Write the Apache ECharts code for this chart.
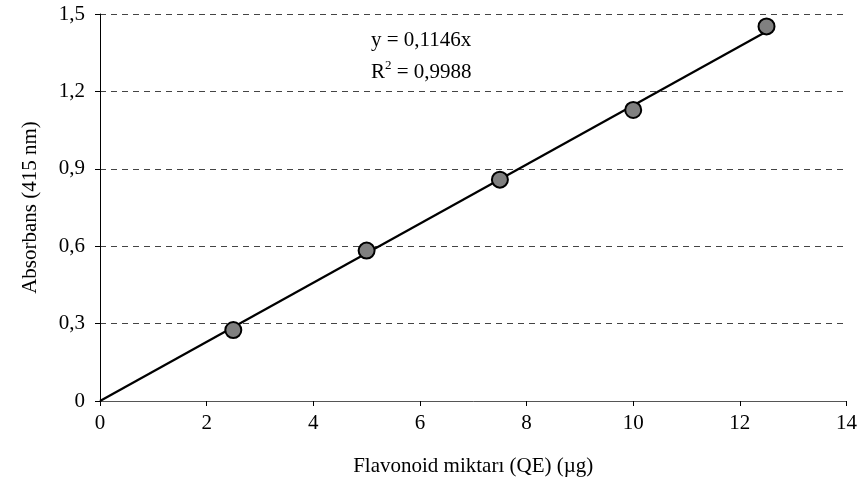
<!DOCTYPE html>
<html><head><meta charset="utf-8">
<script src="https://cdn.jsdelivr.net/npm/echarts@6/dist/echarts.min.js"></script>
<style>html,body{margin:0;padding:0;background:#fff}#c{width:860px;height:492px}</style>
</head><body><div id="c"></div>
<script>
const xValues = [2.5, 5, 7.5, 10, 12.5];
const yValues = [0.275, 0.583, 0.858, 1.128, 1.452];
const trendX = [0, 12.5];
const trendY = [0, 1.4325];
const xTicks = [0, 2, 4, 6, 8, 10, 12, 14];
const yTicks = [0, 0.3, 0.6, 0.9, 1.2, 1.5];
const eqLine1 = 'y = 0,1146x';
const eqLine2 = ['R', '2', ' = 0,9988'];

const font = 'Liberation Serif, Times New Roman, serif';
const chart = echarts.init(document.getElementById('c'));
const fmt = v => v === 0 ? '0' : v.toFixed(1).replace('.', ',');
chart.setOption({
  animation: false,
  grid: {left: 100, right: 13, top: 14, bottom: 91},
  xAxis: {
    type: 'value', min: xTicks[0], max: xTicks[xTicks.length - 1], interval: 2,
    name: 'Flavonoid miktarı (QE) (µg)', nameLocation: 'middle', nameGap: 55,
    nameTextStyle: {fontFamily: font, fontSize: 21, color: '#000'},
    axisLine: {onZero: false, lineStyle: {color: '#555', width: 1}},
    axisTick: {show: true, length: 5, lineStyle: {color: '#000'}},
    axisLabel: {fontFamily: font, fontSize: 21, color: '#000', margin: 12},
    splitLine: {show: false}
  },
  yAxis: {
    type: 'value', min: yTicks[0], max: yTicks[yTicks.length - 1], interval: 0.3,
    name: 'Absorbans (415 nm)', nameLocation: 'middle', nameGap: 59,
    nameTextStyle: {fontFamily: font, fontSize: 21, color: '#000'},
    axisLine: {show: true, onZero: false, lineStyle: {color: '#000', width: 1}},
    axisTick: {show: true, length: 5, lineStyle: {color: '#000'}},
    axisLabel: {fontFamily: font, fontSize: 21, color: '#000', margin: 15, formatter: fmt},
    splitLine: {show: true, lineStyle: {color: '#444', type: [6, 5], width: 1}}
  },
  series: [
    {
      type: 'line', data: trendX.map((x, i) => [x, trendY[i]]),
      symbol: 'none', lineStyle: {color: '#000', width: 2.2}, z: 2
    },
    {
      type: 'scatter', data: xValues.map((x, i) => [x, yValues[i]]),
      symbolSize: 16, itemStyle: {color: '#808080', borderColor: '#000', borderWidth: 2, opacity: 1}, z: 3
    }
  ],
  graphic: [
    {type: 'text', left: 371, top: 30, style: {text: eqLine1, font: '21px ' + font, fill: '#000'}},
    {type: 'text', left: 371, top: 55, style: {
      text: '{a|' + eqLine2[0] + '}{s|' + eqLine2[1] + '}{a|' + eqLine2[2] + '}',
      rich: {
        a: {fontFamily: font, fontSize: 21, color: '#000', verticalAlign: 'bottom', lineHeight: 28},
        s: {fontFamily: font, fontSize: 13, color: '#000', verticalAlign: 'top', lineHeight: 13, padding: [4, 0, 0, 0]}
      }
    }}
  ]
});
</script></body></html>
